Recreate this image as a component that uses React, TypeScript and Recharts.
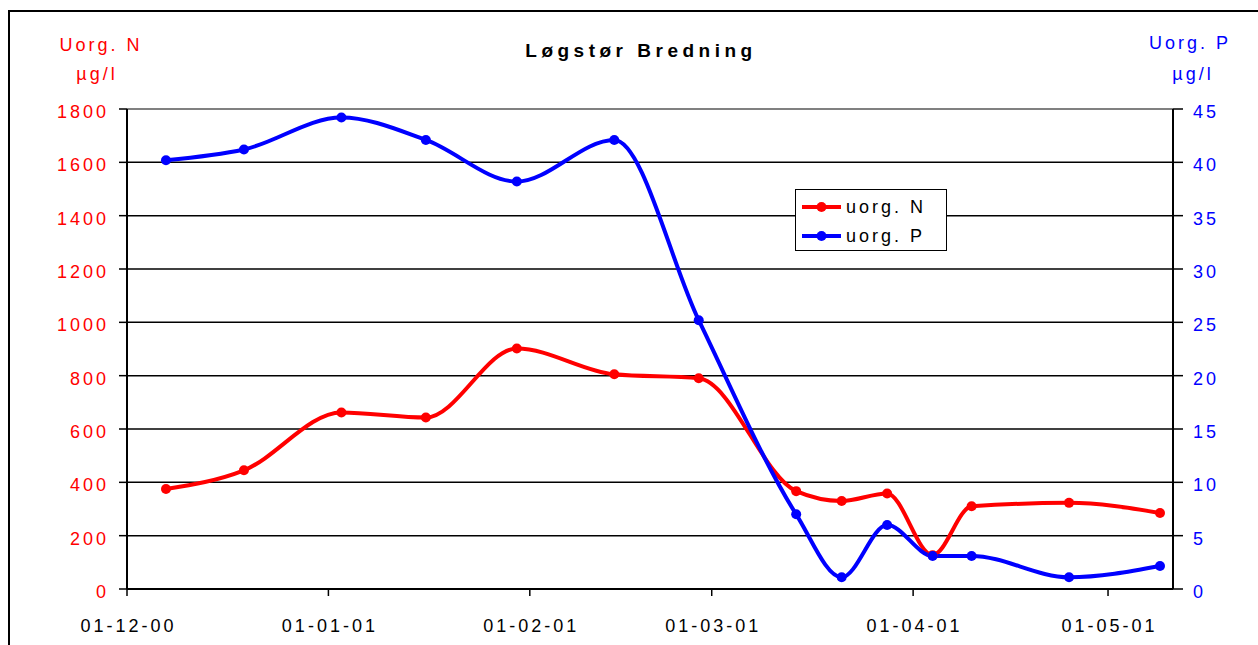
import { LineChart, Line, XAxis, YAxis, CartesianGrid, ReferenceLine, Legend } from 'recharts';

const FONT = '"Liberation Sans", Arial, sans-serif';

const sampleDates = [
  '2000-12-07', '2000-12-19', '2001-01-03', '2001-01-16', '2001-01-30', '2001-02-14', '2001-02-27',
  '2001-03-14', '2001-03-21', '2001-03-28', '2001-04-04', '2001-04-10', '2001-04-25', '2001-05-09',
];
const uorgN = [375, 445, 662, 643, 902, 805, 790, 367, 330, 358, 127, 310, 323, 285];
const uorgP = [40.2, 41.2, 44.2, 42.1, 38.2, 42.1, 25.2, 7.0, 1.1, 6.0, 3.1, 3.1, 1.1, 2.15];

const xTickDates = ['2000-12-01', '2001-01-01', '2001-02-01', '2001-03-01', '2001-04-01', '2001-05-01'];
const nTicks = [0, 200, 400, 600, 800, 1000, 1200, 1400, 1600, 1800];
const pTicks = [0, 5, 10, 15, 20, 25, 30, 35, 40, 45];

const data = sampleDates.map((d, i) => ({ t: Date.parse(d), n: uorgN[i], p: uorgP[i] }));
const xTicks = xTickDates.map((d) => Date.parse(d));
const xDomain = [Date.parse('2000-12-01'), Date.parse('2001-05-11')];

const fmtDate = (v: number) => {
  const d = new Date(v);
  const dd = String(d.getUTCDate()).padStart(2, '0');
  const mm = String(d.getUTCMonth() + 1).padStart(2, '0');
  const yy = String(d.getUTCFullYear() % 100).padStart(2, '0');
  return `${dd}-${mm}-${yy}`;
};

function XTick({ x, y, payload }: any) {
  return (
    <text x={x + 1.5} y={y + 34} textAnchor="middle" fill="#000" fontSize={18} fontFamily={FONT} letterSpacing={3}>
      {fmtDate(payload.value)}
    </text>
  );
}

function LeftTick({ x, y, payload }: any) {
  return (
    <text x={x - 8} y={y + 9} textAnchor="end" fill="#FF0000" fontSize={18} fontFamily={FONT} letterSpacing={3}>
      {payload.value}
    </text>
  );
}

function RightTick({ x, y, payload }: any) {
  return (
    <text x={x + 8} y={y + 9} textAnchor="start" fill="#0000FF" fontSize={18} fontFamily={FONT} letterSpacing={3}>
      {payload.value}
    </text>
  );
}

function LegendBox() {
  const rows = [
    { label: 'uorg. N', color: '#FF0000' },
    { label: 'uorg. P', color: '#0000FF' },
  ];
  return (
    <div style={{
      position: 'absolute', left: 0, top: 0,
      width: 152, height: 62, boxSizing: 'border-box', border: '1.5px solid #000', background: '#fff',
      paddingTop: 2,
    }}>
      {rows.map((r) => (
        <div key={r.label} style={{ display: 'flex', alignItems: 'center', height: 29 }}>
          <svg width={50} height={14} style={{ flex: 'none' }}>
            <line x1={6} y1={7} x2={45} y2={7} stroke={r.color} strokeWidth={4} />
            <circle cx={25.5} cy={7} r={5} fill={r.color} />
          </svg>
          <span style={{ fontFamily: FONT, fontSize: 18, letterSpacing: 3, color: '#000', lineHeight: '20px' }}>
            {r.label}
          </span>
        </div>
      ))}
    </div>
  );
}

export default function App() {
  return (
    <div style={{ position: 'absolute', left: 0, top: 0, width: 1258, height: 645, overflow: 'hidden', background: '#fff' }}>
      <LineChart width={1258} height={645} data={data} margin={{ top: 109, right: 0, bottom: 0, left: 0 }}>
        <CartesianGrid yAxisId="left" vertical={false} stroke="#000" strokeWidth={1.5} />
        <ReferenceLine yAxisId="left" y={1800} stroke="#808080" strokeWidth={2} />
        <XAxis
          dataKey="t" type="number" domain={xDomain} ticks={xTicks} height={56}
          axisLine={{ stroke: '#000', strokeWidth: 2 }} tickLine={{ stroke: '#000', strokeWidth: 1.5 }} tickSize={7}
          tick={<XTick />} interval={0}
        />
        <YAxis
          yAxisId="left" orientation="left" width={127} domain={[0, 1800]} ticks={nTicks} interval={0}
          axisLine={{ stroke: '#000', strokeWidth: 2 }} tickLine={{ stroke: '#000', strokeWidth: 1.5 }} tickSize={8}
          tick={<LeftTick />}
        />
        <YAxis
          yAxisId="right" orientation="right" width={85} domain={[0, 45]} ticks={pTicks} interval={0}
          axisLine={{ stroke: '#000', strokeWidth: 2 }} tickLine={{ stroke: '#000', strokeWidth: 1.5 }} tickSize={10}
          tick={<RightTick />}
        />
        <Line
          yAxisId="left" dataKey="n" name="uorg. N" type="monotone" stroke="#FF0000" strokeWidth={4}
          dot={{ r: 5, fill: '#FF0000', stroke: '#FF0000', strokeWidth: 0 }} isAnimationActive={false}
        />
        <Line
          yAxisId="right" dataKey="p" name="uorg. P" type="monotone" stroke="#0000FF" strokeWidth={4}
          dot={{ r: 5, fill: '#0000FF', stroke: '#0000FF', strokeWidth: 0 }} isAnimationActive={false}
        />
        <Legend
          content={<LegendBox />}
          wrapperStyle={{ left: 795, top: 189, width: 152, height: 0, bottom: 'auto', overflow: 'visible' }}
        />
      </LineChart>
      <svg width={1258} height={645} style={{ position: 'absolute', left: 0, top: 0, pointerEvents: 'none' }}>
        <rect x={9} y={11} width={1300} height={700} fill="none" stroke="#000" strokeWidth={2} />
        <text x={641} y={57} textAnchor="middle" fontFamily={FONT} fontSize={19} fontWeight="bold" letterSpacing={4.5} fill="#000">
          Løgstør Bredning
        </text>
        <text x={101} y={51} textAnchor="middle" fontFamily={FONT} fontSize={18} letterSpacing={3} fill="#FF0000">Uorg. N</text>
        <text x={97} y={80} textAnchor="middle" fontFamily={FONT} fontSize={18} letterSpacing={3} fill="#FF0000">µg/l</text>
        <text x={1190} y={49} textAnchor="middle" fontFamily={FONT} fontSize={18} letterSpacing={3} fill="#0000FF">Uorg. P</text>
        <text x={1193} y={80} textAnchor="middle" fontFamily={FONT} fontSize={18} letterSpacing={3} fill="#0000FF">µg/l</text>
      </svg>
    </div>
  );
}
